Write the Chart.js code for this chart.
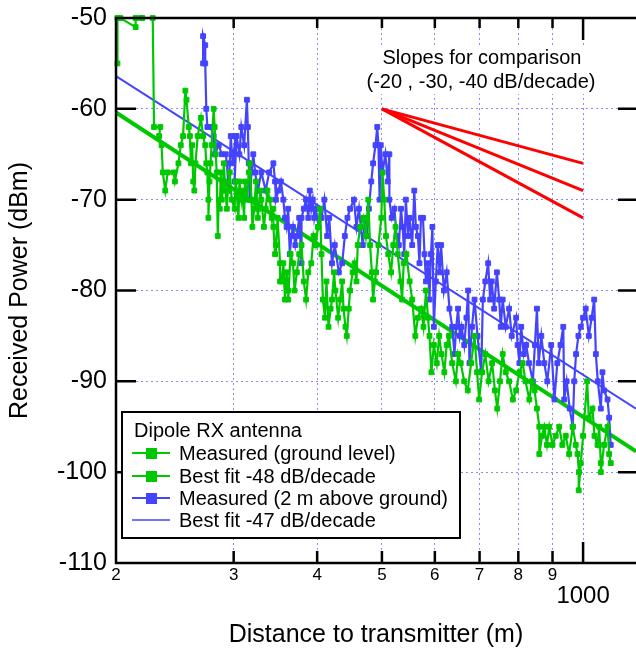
<!DOCTYPE html>
<html><head><meta charset="utf-8">
<script src="https://cdn.jsdelivr.net/npm/chart.js@4.4.0/dist/chart.umd.min.js"></script>
<style>html,body{margin:0;padding:0;background:#fff;}#c{display:block;}</style>
</head><body>
<canvas id="c" width="636" height="650"></canvas>
<script>
// ---- data ----
const xTickValues = [200, 300, 400, 500, 600, 700, 800, 900, 1000];
const xTickLabels = ['2', '3', '4', '5', '6', '7', '8', '9', '1000'];
const yTickValues = [-110, -100, -90, -80, -70, -60, -50];

const greenDist = [201,201,203,214,214,218,219,227,228,233,232,234,235,237,239,244,245,248,250,252,254,255,257,258,259,260,261,262,263,265,268,270,272,273,274,275,275,276,277,278,280,281,282,283,284,285,286,287,288,289,290,291,293,294,296,298,301,302,303,305,306,308,309,311,312,314,316,317,319,320,322,324,326,327,329,330,333,335,337,340,342,344,344,346,347,349,352,352,354,356,358,360,362,362,365,368,370,373,376,379,382,385,388,392,395,398,401,404,406,408,411,413,416,419,421,424,426,430,433,436,438,441,443,446,448,452,455,458,460,464,469,473,477,480,483,485,488,490,494,499,501,504,507,511,516,520,524,528,533,536,539,544,550,555,561,566,572,577,582,586,589,593,598,604,609,614,620,625,630,637,645,650,656,664,672,680,688,694,699,706,714,722,731,738,744,751,758,766,775,785,794,803,812,820,831,838,846,853,860,860,868,875,883,890,900,910,921,931,942,953,965,975,981,986,985,992,1000,1014,1020,1033,1040,1051,1057,1063,1063,1075,1088,1094,1100];
const greenPower = [-55,-50,-50,-51,-50,-50,-50,-50,-62,-62,-63,-64,-67,-69,-67,-67,-68,-66,-64,-63,-58,-59,-62,-63,-66,-64,-68,-69,-66,-63,-61,-63,-64,-66,-67,-70,-72,-68,-66,-64,-60,-62,-65,-67,-74,-70,-71,-67,-70,-69,-66,-68,-71,-69,-67,-70,-71,-68,-69,-72,-68,-70,-69,-72,-68,-70,-67,-66,-70,-73,-71,-68,-72,-71,-69,-70,-73,-71,-69,-70,-72,-71,-73,-76,-75,-72,-77,-79,-79,-77,-81,-78,-80,-81,-76,-77,-80,-78,-76,-75,-79,-81,-78,-77,-74,-75,-73,-71,-76,-81,-83,-79,-84,-82,-81,-78,-80,-83,-81,-79,-82,-84,-85,-82,-80,-78,-77,-79,-75,-73,-72,-74,-70,-75,-78,-81,-79,-78,-75,-72,-67,-70,-74,-76,-78,-75,-73,-76,-79,-81,-77,-76,-79,-81,-85,-83,-82,-84,-80,-83,-85,-89,-86,-88,-85,-87,-89,-86,-85,-88,-90,-87,-88,-90,-91,-88,-85,-89,-92,-89,-87,-90,-88,-91,-93,-90,-87,-89,-90,-92,-91,-89,-88,-90,-92,-90,-91,-93,-95,-98,-96,-95,-97,-95,-97,-96,-95,-97,-96,-98,-95,-97,-98,-100,-102,-99,-96,-90,-94,-93,-96,-97,-95,-99,-100,-97,-95,-98,-99];

const blueDist = [270,270,272,272,273,274,277,280,281,285,288,292,293,295,297,299,302,301,303,306,308,311,314,315,316,317,319,321,323,326,330,335,339,344,346,347,350,353,356,358,360,362,364,366,368,371,373,376,379,379,382,385,388,390,392,394,396,398,402,406,410,414,417,421,425,431,436,440,444,448,454,458,462,465,468,472,475,478,482,485,489,492,494,496,498,501,506,510,513,513,517,522,526,530,534,537,540,543,547,550,555,559,562,566,569,572,576,579,582,586,589,592,595,598,602,606,610,613,619,625,631,637,642,646,650,654,658,664,669,673,676,682,688,695,704,708,714,721,726,730,736,743,749,753,758,766,775,782,794,798,803,808,815,822,830,841,847,853,858,866,875,884,896,906,915,925,934,937,945,955,965,970,976,984,992,1000,1009,1020,1030,1039,1045,1052,1063,1069,1075,1088,1094,1100];
const bluePower = [-55,-52,-53,-55,-60,-62,-62,-63,-65,-64,-65,-65,-66,-69,-63,-66,-63,-68,-63,-65,-62,-64,-59,-62,-66,-70,-67,-65,-67,-69,-67,-69,-67,-66,-68,-70,-69,-68,-70,-72,-73,-71,-76,-74,-73,-75,-74,-72,-77,-72,-71,-70,-72,-69,-71,-70,-72,-71,-73,-72,-70,-74,-72,-77,-75,-78,-77,-74,-72,-71,-70,-73,-71,-73,-75,-72,-74,-71,-68,-66,-64,-62,-64,-70,-64,-67,-65,-68,-65,-70,-72,-71,-74,-75,-71,-73,-76,-70,-74,-72,-75,-69,-73,-74,-77,-72,-72,-76,-79,-77,-81,-76,-73,-84,-79,-75,-78,-75,-80,-78,-82,-84,-87,-84,-82,-85,-84,-86,-83,-80,-88,-84,-81,-85,-89,-81,-79,-77,-81,-79,-82,-78,-81,-84,-81,-84,-82,-85,-83,-86,-88,-84,-87,-86,-88,-90,-86,-82,-88,-85,-88,-90,-86,-92,-88,-86,-84,-92,-90,-93,-95,-90,-87,-85,-84,-83,-82,-85,-83,-81,-87,-90,-93,-89,-91,-92,-94,-97];

const fitDist = [200, 1200];
const greenFitPower = [-60.4, -97.7];
const blueFitPower = [-56.4, -93.0];

const slopeDist = [500, 1000];
const slope20Power = [-60, -66];
const slope30Power = [-60, -69];
const slope40Power = [-60, -72];

const legendTitle = 'Dipole RX antenna';
const seriesNames = ['Measured (ground level)', 'Best fit -48 dB/decade', 'Measured (2 m above ground)', 'Best fit -47 dB/decade'];
const slopeNote = ['Slopes for comparison', '(-20 , -30, -40 dB/decade)'];

// ---- styling ----
const GREEN = '#00c800';
const BLUE = '#4444ff';
const RED = '#ff0000';
const GRID = '#8c8cff';
const FONT = '"Liberation Sans", Arial, Helvetica, sans-serif';
Chart.defaults.font.family = FONT;
Chart.defaults.color = '#000';

function xy(xs, ys) { return xs.map((v, i) => ({x: v, y: ys[i]})); }

const measuredStyle = (c) => ({
  showLine: true, borderColor: c, backgroundColor: c, borderWidth: 2.2,
  pointStyle: 'rect', pointRadius: 3.4, pointBorderWidth: 1,
  pointBackgroundColor: c, pointBorderColor: c, tension: 0, clip: false
});
const lineStyle = (c, w) => ({
  showLine: true, borderColor: c, backgroundColor: c, borderWidth: w,
  pointRadius: 0, tension: 0, clip: false
});

const overlay = {
  id: 'overlay',
  afterDraw(chart) {
    const {ctx, chartArea: a, scales: {x, y}} = chart;
    ctx.save();
    ctx.strokeStyle = '#000';
    ctx.lineWidth = 2.5;
    ctx.beginPath();
    ctx.moveTo(a.right, a.top); ctx.lineTo(a.left, a.top); ctx.lineTo(a.left, a.bottom); ctx.lineTo(a.right, a.bottom);
    yTickValues.forEach(v => {
      const py = y.getPixelForValue(v);
      ctx.moveTo(a.left, py); ctx.lineTo(a.left + 20, py);
      ctx.moveTo(a.right, py); ctx.lineTo(a.right - 18, py);
    });
    xTickValues.forEach(v => {
      if (v === 200) return;
      const px = x.getPixelForValue(v);
      const lb = v === 1000 ? 21 : 12;
      const lt = v === 1000 ? 22 : 10;
      ctx.moveTo(px, a.bottom); ctx.lineTo(px, a.bottom - lb);
      ctx.moveTo(px, a.top); ctx.lineTo(px, a.top + lt);
    });
    ctx.stroke();

    // slope annotation
    ctx.fillStyle = '#fff';
    ctx.fillRect(362, 46, 238, 48);
    ctx.fillStyle = '#000';
    ctx.font = '20px ' + FONT;
    ctx.textAlign = 'center'; ctx.textBaseline = 'middle';
    ctx.fillText(slopeNote[0], 482, 58);
    ctx.fillText(slopeNote[1], 481, 82);

    // legend
    const L = 122, T = 412, R = 460, B = 538;
    ctx.fillStyle = '#fff';
    ctx.fillRect(L, T, R - L, B - T);
    ctx.lineWidth = 2;
    ctx.strokeStyle = '#000';
    ctx.strokeRect(L, T, R - L, B - T);
    ctx.fillStyle = '#000';
    ctx.textAlign = 'left';
    ctx.font = '20px ' + FONT;
    ctx.fillText(legendTitle, 134, 431);
    const rows = [453, 476, 498, 520];
    const items = [
      {c: GREEN, w: 2.2, m: true}, {c: GREEN, w: 2.2, m: true},
      {c: BLUE, w: 2.2, m: true}, {c: BLUE, w: 1.6, m: false}
    ];
    items.forEach((it, i) => {
      const yy = rows[i];
      ctx.strokeStyle = it.c; ctx.lineWidth = it.w;
      ctx.beginPath(); ctx.moveTo(132, yy); ctx.lineTo(170, yy); ctx.stroke();
      if (it.m) { ctx.fillStyle = it.c; ctx.fillRect(146, yy - 5, 11, 11); }
      ctx.fillStyle = '#000';
      ctx.fillText(seriesNames[i], 179, yy + 1);
    });
    ctx.restore();
  }
};

const noPad = s => { s.paddingLeft = 0; s.paddingRight = 0; s.paddingTop = 0; s.paddingBottom = 0; };

new Chart(document.getElementById('c').getContext('2d'), {
  type: 'scatter',
  data: {
    datasets: [
      Object.assign({label: seriesNames[0], data: xy(greenDist, greenPower)}, measuredStyle(GREEN)),
      Object.assign({label: seriesNames[2], data: xy(blueDist, bluePower)}, measuredStyle(BLUE)),
      Object.assign({label: seriesNames[1], data: xy(fitDist, greenFitPower)}, lineStyle(GREEN, 4)),
      Object.assign({label: seriesNames[3], data: xy(fitDist, blueFitPower)}, lineStyle(BLUE, 2)),
      Object.assign({label: '-20', data: xy(slopeDist, slope20Power)}, lineStyle(RED, 3)),
      Object.assign({label: '-30', data: xy(slopeDist, slope30Power)}, lineStyle(RED, 3)),
      Object.assign({label: '-40', data: xy(slopeDist, slope40Power)}, lineStyle(RED, 3))
    ]
  },
  options: {
    responsive: false, animation: false, devicePixelRatio: 1,
    layout: {autoPadding: false, padding: {top: 18, left: 0, right: 0, bottom: 0}},
    plugins: {legend: {display: false}, tooltip: {enabled: false}},
    scales: {
      x: {
        type: 'logarithmic', min: 200, max: 1200, position: 'bottom',
        afterBuildTicks: s => { s.ticks = xTickValues.map(v => ({value: v})); },
        afterFit: s => { s.height = 87; noPad(s); },
        ticks: {
          autoSkip: false, maxRotation: 0, minRotation: 0, padding: 2, color: '#000',
          callback: (v, i) => (xTickValues[i] === 1000 ? ['', xTickLabels[i]] : xTickLabels[i]),
          font: c => (c.tick && c.tick.value === 1000) ? {size: 24, lineHeight: 0.86} : {size: 17}
        },
        grid: {drawTicks: false, lineWidth: 1,
          color: c => (c.tick && c.tick.value === 200) ? 'rgba(0,0,0,0)' : GRID},
        border: {display: false, dash: [2, 3]},
        title: {display: true, text: 'Distance to transmitter (m)', font: {size: 25}, padding: {top: 0, bottom: 0}, color: '#000'}
      },
      y: {
        min: -110, max: -50,
        afterBuildTicks: s => { s.ticks = yTickValues.map(v => ({value: v})); },
        afterFit: s => { s.width = 116; noPad(s); },
        ticks: {padding: 9, color: '#000', font: {size: 25}, callback: v => String(v)},
        grid: {drawTicks: false, lineWidth: 1,
          color: c => (c.tick && (c.tick.value === -50 || c.tick.value === -110)) ? 'rgba(0,0,0,0)' : GRID},
        border: {display: false, dash: [2, 3]},
        title: {display: true, text: 'Received Power (dBm)', font: {size: 25}, padding: {top: 5, bottom: 0}, color: '#000'}
      }
    }
  },
  plugins: [overlay]
});
</script>
</body></html>
